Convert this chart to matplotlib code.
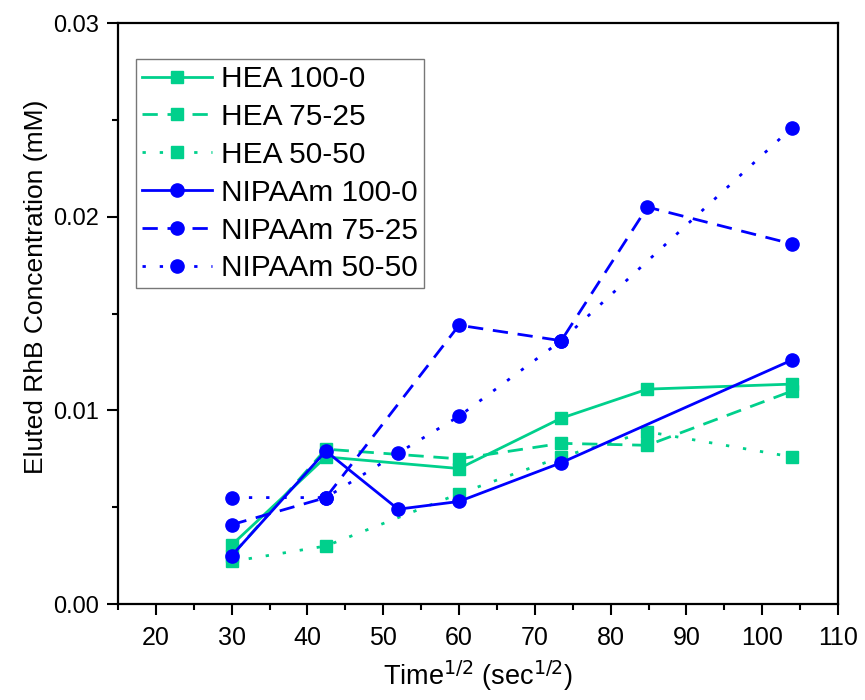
import matplotlib.pyplot as plt
from matplotlib.ticker import MultipleLocator, FormatStrFormatter

plt.rcParams['font.family'] = ['Liberation Sans', 'DejaVu Sans']

# sqrt(time) in sec^1/2
t_hea = [30.0, 42.43, 60.0, 73.48, 84.85, 103.92]
t_nip100 = [30.0, 42.43, 51.96, 60.0, 73.48, 103.92]
t_nip75 = [30.0, 42.43, 60.0, 73.48, 84.85, 103.92]
t_nip50 = [30.0, 42.43, 51.96, 60.0, 73.48, 103.92]

hea_100 = [0.00305, 0.0076, 0.0070, 0.0096, 0.0111, 0.01136]
hea_75 = [0.0025, 0.0080, 0.0075, 0.0083, 0.0082, 0.0110]
hea_50 = [0.0022, 0.0030, 0.0057, 0.0076, 0.0089, 0.0076]
nip_100 = [0.0025, 0.0079, 0.0049, 0.0053, 0.0073, 0.0126]
nip_75 = [0.0041, 0.0055, 0.0144, 0.0136, 0.0205, 0.0186]
nip_50 = [0.0055, 0.0055, 0.0078, 0.0097, 0.0136, 0.0246]

green = '#00D08C'
blue = '#0000FF'
dash = (5.5, 3.5)
dot = (1.2, 5.0)

fig = plt.figure(figsize=(8.65, 7.0), dpi=100)
ax = fig.add_axes([0.1364, 0.137, 0.8324, 0.83])

ax.plot(t_hea, hea_100, color=green, lw=2, marker='s', ms=8, label='HEA 100-0')
ax.plot(t_hea, hea_75, color=green, lw=2, marker='s', ms=8, dashes=dash, label='HEA 75-25')
ax.plot(t_hea, hea_50, color=green, lw=2, marker='s', ms=8, dashes=dot, label='HEA 50-50')
ax.plot(t_nip100, nip_100, color=blue, lw=2, marker='o', ms=9.5, label='NIPAAm 100-0')
ax.plot(t_nip75, nip_75, color=blue, lw=2, marker='o', ms=9.5, dashes=dash, label='NIPAAm 75-25')
ax.plot(t_nip50, nip_50, color=blue, lw=2, marker='o', ms=9.5, dashes=dot, label='NIPAAm 50-50')

ax.set_xlim(15, 110)
ax.set_ylim(0, 0.03)
ax.xaxis.set_major_locator(MultipleLocator(10))
ax.xaxis.set_minor_locator(MultipleLocator(5))
ax.yaxis.set_major_locator(MultipleLocator(0.01))
ax.yaxis.set_minor_locator(MultipleLocator(0.005))
ax.yaxis.set_major_formatter(FormatStrFormatter('%.2f'))
ax.tick_params(which='major', direction='out', length=8, width=1.5)
ax.tick_params(which='minor', direction='out', length=4, width=1.5)
ax.tick_params(axis='y', labelsize=17, pad=6)
ax.tick_params(axis='x', labelsize=18, pad=8)
for s in ax.spines.values():
    s.set_linewidth(1.6)

ax.set_xlabel('Time$^{1/2}$ (sec$^{1/2}$)', fontsize=19.5, labelpad=6)
ax.set_ylabel('Eluted RhB Concentration (mM)', fontsize=19)
ax.yaxis.set_label_coords(-0.097, 0.546)

leg = ax.legend(loc='upper left', bbox_to_anchor=(0.025, 0.938), fontsize=21.5,
                frameon=True, fancybox=False, edgecolor='#555555',
                handlelength=2.35, handletextpad=0.3, labelspacing=0.33,
                borderpad=0.2, borderaxespad=0.0)
leg.get_frame().set_linewidth(1.0)

fig.savefig('out.png', dpi=100)
